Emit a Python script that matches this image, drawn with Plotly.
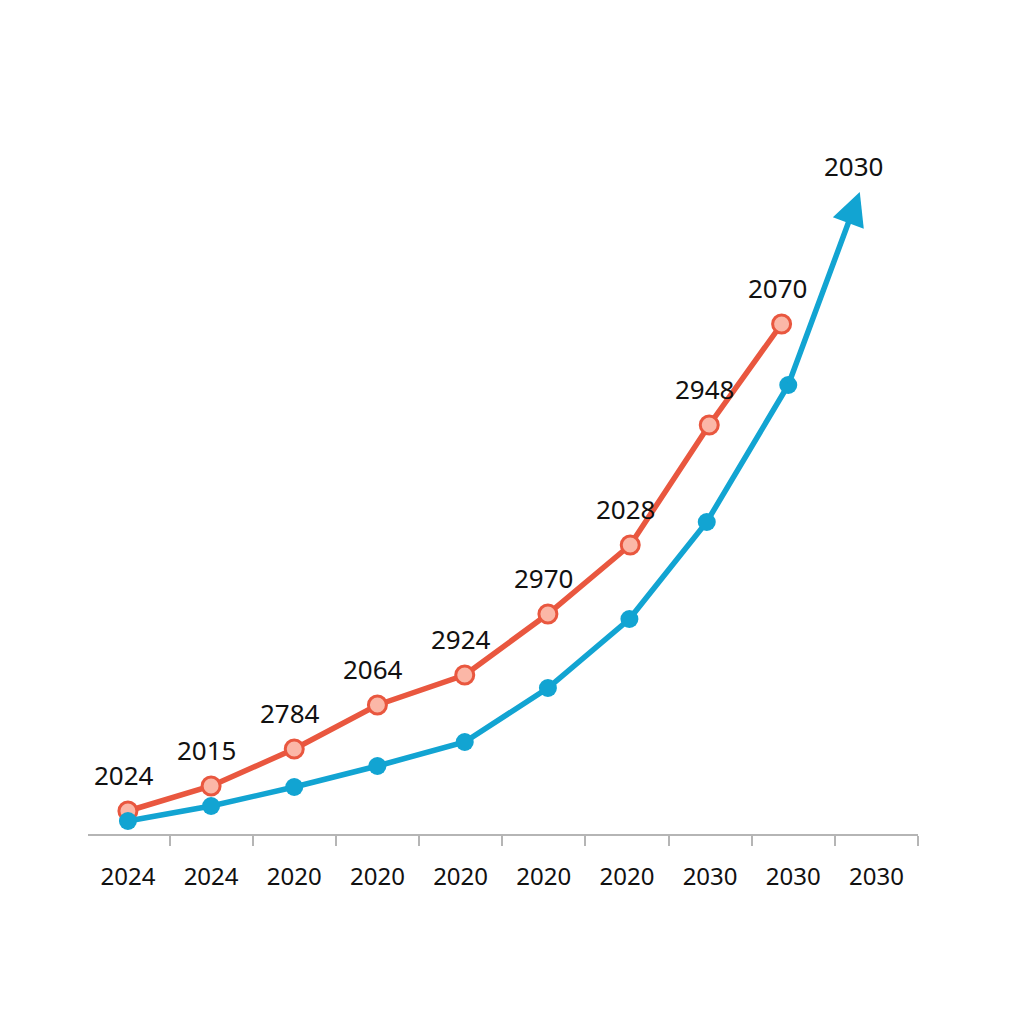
import plotly.graph_objects as go

# tick labels on the x axis (they repeat, so the axis is numeric)
tick_labels = ['2024', '2024', '2020', '2020', '2020', '2020', '2020', '2030', '2030', '2030']

# red series
red_x = [0, 1, 2, 3, 4.05, 5.05, 6.04, 6.99, 7.86]
red_y = [23, 48, 85, 129, 159, 220, 289, 409, 510]
red_labels = ['2024', '2015', '2784', '2064', '2924', '2970', '2028', '2948', '2070']

# blue series, plus where its arrow ends
blue_x = [0, 1, 2, 3, 4.05, 5.05, 6.03, 6.96, 7.94]
blue_y = [13, 28, 47, 68, 92, 146, 215, 312, 449]
arrow_x, arrow_y = 8.8, 642
arrow_label = '2030'

RED = '#E9573F'
RED_FILL = '#FBB7A7'
BLUE = '#12A4D2'
FONT = 'Noto Sans'

fig = go.Figure()

fig.add_trace(go.Scatter(
    x=red_x, y=red_y, mode='lines+markers',
    line=dict(color=RED, width=5.5),
    marker=dict(size=18, color=RED_FILL, line=dict(color=RED, width=3)),
    hoverinfo='skip', showlegend=False,
))

fig.add_trace(go.Scatter(
    x=blue_x, y=blue_y, mode='lines+markers',
    line=dict(color=BLUE, width=5.5),
    marker=dict(size=18, color=BLUE),
    hoverinfo='skip', showlegend=False,
))

# arrow continuing the blue line
fig.add_annotation(
    x=arrow_x, y=arrow_y, ax=blue_x[-1], ay=blue_y[-1],
    xref='x', yref='y', axref='x', ayref='y',
    text='', showarrow=True, arrowhead=2, arrowsize=1.2,
    arrowwidth=5.5, arrowcolor=BLUE, standoff=0,
)
fig.add_annotation(
    x=arrow_x, y=arrow_y, text=arrow_label, showarrow=False,
    yshift=26, xshift=-6,
    font=dict(family=FONT, size=26, color='#111111'),
)

# value labels above the red points
for x, y, t in zip(red_x, red_y, red_labels):
    fig.add_annotation(
        x=x, y=y, text=t, showarrow=False,
        yshift=36, xshift=-4,
        font=dict(family=FONT, size=26, color='#111111'),
    )

fig.update_layout(
    width=1024, height=1024,
    margin=dict(l=80, r=114, t=126, b=198),
    paper_bgcolor='white', plot_bgcolor='white',
    font=dict(family=FONT, size=24, color='#111111'),
)

fig.update_xaxes(
    range=[-0.48, 9.5],
    tickvals=list(range(len(tick_labels))), ticktext=tick_labels,
    ticks='', showgrid=False, zeroline=False,
    showline=True, linecolor='#B5B5B5', linewidth=2,
    ticklabelstandoff=20,
    tickfont=dict(family=FONT, size=24, color='#111111'),
    minor=dict(tickvals=[i + 0.5 for i in range(len(tick_labels))],
               ticks='outside', ticklen=10, tickcolor='#B5B5B5', tickwidth=2),
)
fig.update_yaxes(range=[0, 700], visible=False, showgrid=False, zeroline=False)

fig.write_html('out.html')
